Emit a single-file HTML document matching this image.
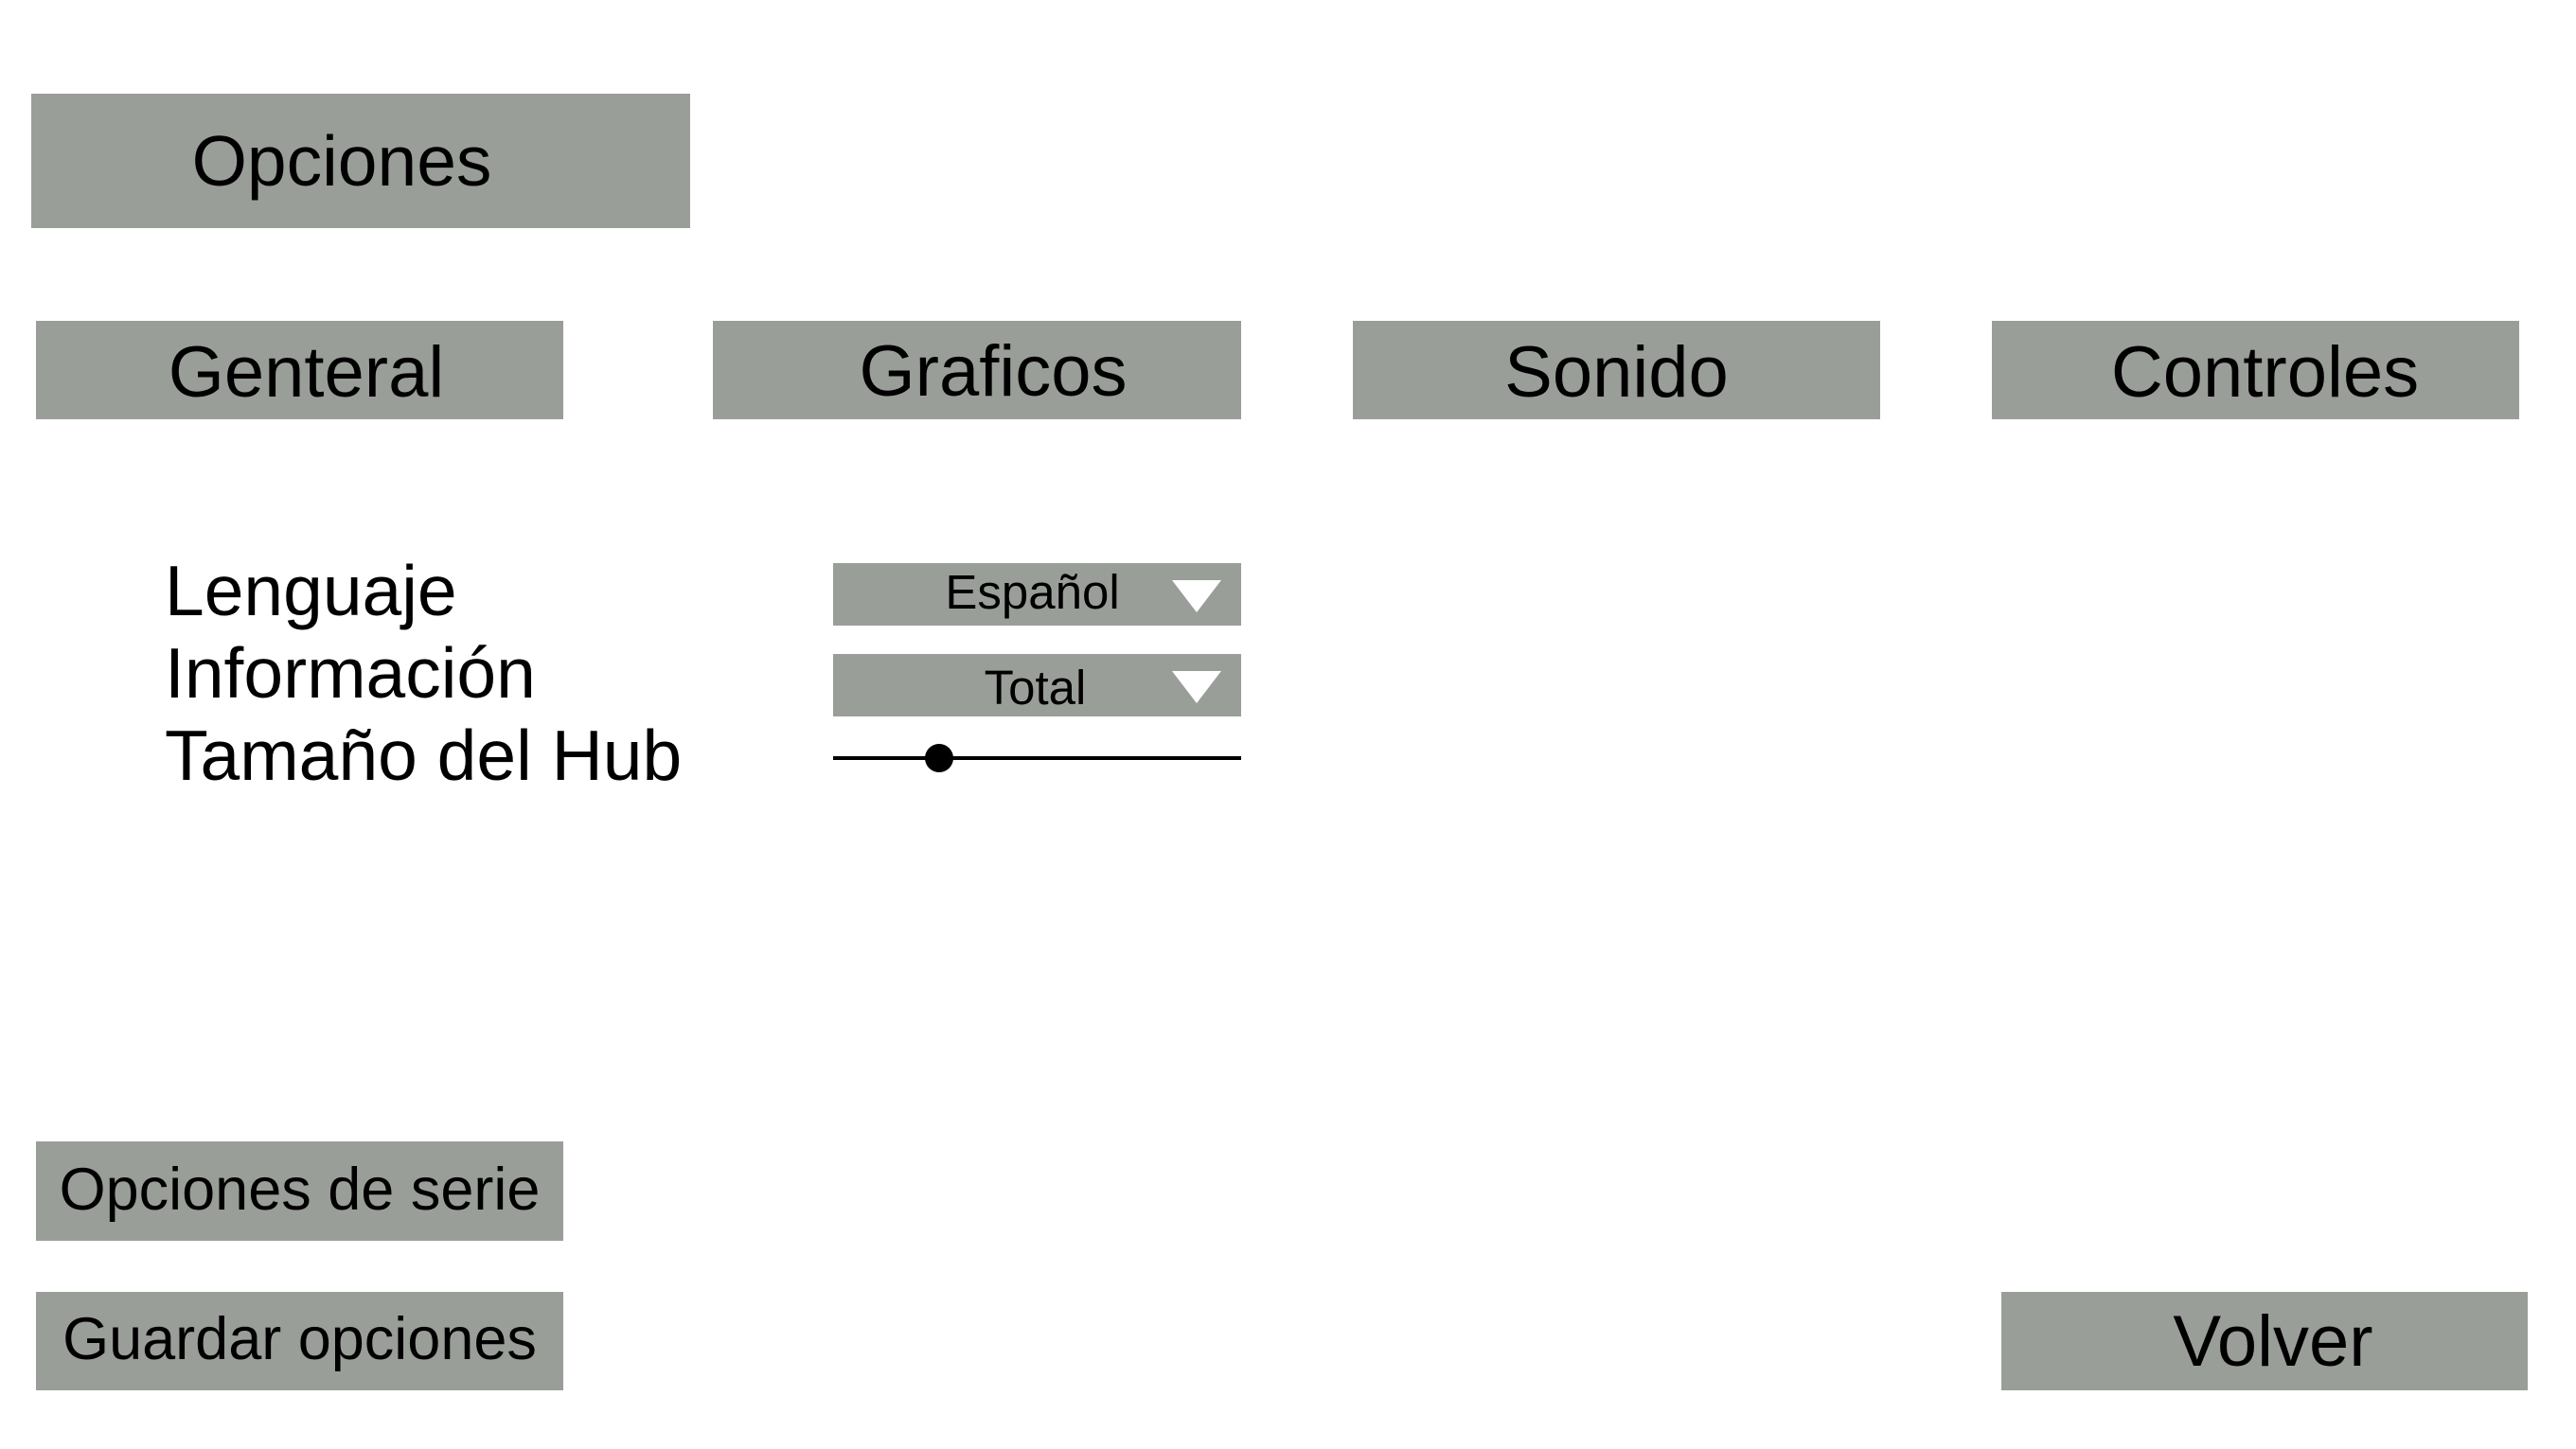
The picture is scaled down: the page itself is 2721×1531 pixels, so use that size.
<!DOCTYPE html>
<html><head><meta charset="utf-8"><style>
body{margin:0;width:2721px;height:1531px;background:#fff;position:relative;overflow:hidden;font-family:"Liberation Sans",Arial,sans-serif;color:#000}
.b{position:absolute;background:#9a9e98;display:flex;align-items:center;justify-content:center;white-space:nowrap;box-sizing:border-box}
.l{position:absolute;left:174px;font-size:75px;line-height:1;white-space:nowrap}
.tri{position:absolute;width:0;height:0;border-left:26px solid transparent;border-right:26px solid transparent;border-top:34px solid #fff}
</style></head><body>
<div class="b" style="left:33px;top:99px;width:696px;height:142px;font-size:75px;padding-right:40px">Opciones</div>
<div class="b" style="left:38px;top:339px;width:557px;height:104px;font-size:76px;padding-left:14px;padding-top:4px">Genteral</div>
<div class="b" style="left:753px;top:339px;width:558px;height:104px;font-size:76px;padding-left:34px;padding-top:2px">Graficos</div>
<div class="b" style="left:1429px;top:339px;width:557px;height:104px;font-size:76px;padding-top:4px">Sonido</div>
<div class="b" style="left:2104px;top:339px;width:557px;height:104px;font-size:76px;padding-left:20px;padding-top:4px">Controles</div>
<div class="l" style="top:587px">Lenguaje</div>
<div class="l" style="top:674px">Información</div>
<div class="l" style="top:761px">Tamaño del Hub</div>
<div class="b" style="left:880px;top:595px;width:431px;height:66px;font-size:51px"><span style="position:relative;left:-5px;top:-3px">Español</span></div>
<div class="tri" style="left:1238px;top:613px"></div>
<div class="b" style="left:880px;top:691px;width:431px;height:66px;font-size:51px"><span style="position:relative;left:-2px;top:2px">Total</span></div>
<div class="tri" style="left:1238px;top:709px"></div>
<div style="position:absolute;left:880px;top:799px;width:431px;height:4px;background:#000"></div>
<div style="position:absolute;left:977px;top:786px;width:30px;height:30px;border-radius:50%;background:#000"></div>
<div class="b" style="left:38px;top:1206px;width:557px;height:105px;font-size:63px"><span style="position:relative;top:-2px">Opciones de serie</span></div>
<div class="b" style="left:38px;top:1365px;width:557px;height:104px;font-size:63px"><span style="position:relative;top:-2px">Guardar opciones</span></div>
<div class="b" style="left:2114px;top:1365px;width:556px;height:104px;font-size:76px;padding-left:18px">Volver</div>
</body></html>
